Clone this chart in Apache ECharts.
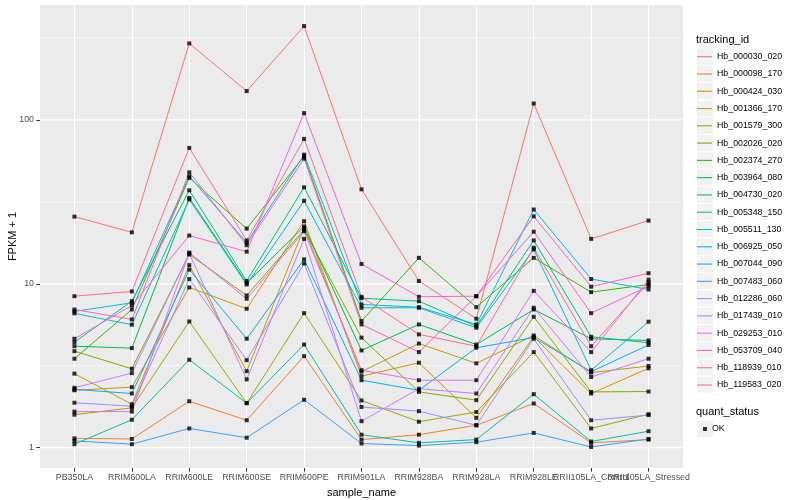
<!DOCTYPE html>
<html><head><meta charset="utf-8">
<script src="https://cdn.jsdelivr.net/npm/echarts@6/dist/echarts.min.js"></script>
</head><body style="margin:0;background:#fff">
<div id="c" style="width:800px;height:500px"></div>
<script>
const categories = ['PB350LA','RRIM600LA','RRIM600LE','RRIM600SE','RRIM600PE','RRIM901LA','RRIM928BA','RRIM928LA','RRIM928LE','RRII105LA_Control','RRII105LA_Stressed'];
const trackingIds = ['Hb_000030_020','Hb_000098_170','Hb_000424_030','Hb_001366_170','Hb_001579_300','Hb_002026_020','Hb_002374_270','Hb_003964_080','Hb_004730_020','Hb_005348_150','Hb_005511_130','Hb_006925_050','Hb_007044_090','Hb_007483_060','Hb_012286_060','Hb_017439_010','Hb_029253_010','Hb_053709_040','Hb_118939_010','Hb_119583_020'];
const lineColors = ['#F8766D','#EA8331','#D89000','#C09B00','#A3A500','#7CAE00','#39B600','#00BB4E','#00BF7D','#00C1A3','#00BFC4','#00BAE0','#00B0F6','#35A2FF','#9590FF','#C77CFF','#E76BF3','#FA62DB','#FF62BC','#FF6C91'];

// FPKM + 1 per sample, in category order
const Hb_000030_020 = [25.7, 20.6, 293, 150, 374, 37.7, 10.4, 6.12, 126, 18.8, 24.3];
const Hb_000098_170 = [1.14, 1.13, 1.92, 1.47, 3.62, 1.12, 1.2, 1.37, 1.86, 1.07, 1.12];
const Hb_000424_030 = [2.24, 2.34, 9.5, 7.04, 24.1, 2.73, 3.3, 1.52, 4.75, 2.14, 3.05];
const Hb_001366_170 = [2.83, 1.84, 13.0, 2.93, 21.9, 2.91, 4.32, 3.27, 4.84, 2.87, 3.15];
const Hb_001579_300 = [1.59, 1.75, 5.89, 1.87, 6.62, 1.94, 1.44, 1.65, 3.83, 1.31, 1.6];
const Hb_002026_020 = [3.88, 3.03, 15.1, 8.49, 21.4, 4.69, 2.19, 1.95, 6.29, 2.19, 2.2];
const Hb_002374_270 = [3.49, 6.97, 44.3, 21.7, 60, 5.92, 14.4, 7.2, 14.4, 8.89, 9.9];
const Hb_003964_080 = [4.16, 4.05, 33.4, 10.1, 22.4, 3.92, 5.65, 4.26, 6.97, 4.62, 4.51];
const Hb_004730_020 = [4.4, 7.84, 37.2, 10.4, 38.8, 8.17, 7.83, 5.51, 18.4, 4.75, 4.37];
const Hb_005348_150 = [1.05, 1.48, 3.44, 1.87, 4.26, 1.2, 1.07, 1.12, 2.12, 1.09, 1.26];
const Hb_005511_130 = [6.6, 5.63, 32.7, 9.9, 32.1, 7.14, 7.14, 5.39, 16.2, 2.97, 5.87];
const Hb_006925_050 = [6.78, 7.66, 45.3, 17.8, 61.4, 7.48, 7.2, 5.65, 28.4, 10.7, 9.23];
const Hb_007044_090 = [2.27, 2.14, 12.2, 4.62, 14.1, 2.58, 2.24, 4.07, 4.7, 2.91, 4.23];
const Hb_007483_060 = [1.1, 1.05, 1.31, 1.15, 1.96, 1.06, 1.03, 1.08, 1.23, 1.01, 1.13];
const Hb_012286_060 = [1.88, 1.79, 10.7, 3.42, 13.3, 1.77, 1.67, 1.37, 4.62, 1.47, 1.58];
const Hb_017439_010 = [2.32, 2.85, 15.3, 2.61, 18.8, 1.45, 2.29, 2.14, 7.14, 2.7, 3.49];
const Hb_029253_010 = [1.66, 1.66, 15.5, 8.1, 20.9, 2.97, 2.58, 2.58, 9.06, 3.83, 10.6];
const Hb_053709_040 = [4.62, 7.38, 19.7, 15.7, 110, 13.2, 8.33, 8.4, 20.8, 6.62, 9.67];
const Hb_118939_010 = [6.97, 6.06, 47.9, 17.2, 58.1, 5.65, 3.83, 8.4, 25.8, 9.6, 11.6];
const Hb_119583_020 = [8.4, 8.98, 67.5, 18.4, 76.6, 8.33, 4.91, 4.16, 16.6, 4.16, 10.2];

const yMajorTicks = [1, 10, 100];
const quantStatus = ['OK'];

const seriesValues = [Hb_000030_020, Hb_000098_170, Hb_000424_030, Hb_001366_170, Hb_001579_300,
  Hb_002026_020, Hb_002374_270, Hb_003964_080, Hb_004730_020, Hb_005348_150, Hb_005511_130,
  Hb_006925_050, Hb_007044_090, Hb_007483_060, Hb_012286_060, Hb_017439_010, Hb_029253_010,
  Hb_053709_040, Hb_118939_010, Hb_119583_020];

const FONT = "'Liberation Sans', Arial, Helvetica, sans-serif";
const L = v => Math.log10(v);
const allLog = seriesValues.flat().map(L);
const dMin = Math.min(...allLog), dMax = Math.max(...allLog), pad = 0.05 * (dMax - dMin);
const yLo = dMin - pad, yHi = dMax + pad;
const xLo = -0.6, xHi = categories.length - 1 + 0.6;
const majorLog = yMajorTicks.map(L);
const minorLog = majorLog.slice(0, -1).map((v, i) => (v + majorLog[i + 1]) / 2)
  .concat([majorLog[majorLog.length - 1] + 0.5]).filter(v => v < yHi);
const catIdx = categories.map((_, i) => i);
const evenIdx = catIdx.filter(i => i % 2 === 0);
const oddIdx = catIdx.filter(i => i % 2 === 1);

// horizontal panel grid lines (ggplot major + minor breaks of the log scale)
const gridLineSeries = majorLog.map(v => ({ v, w: 1.2 })).concat(minorLog.map(v => ({ v, w: 0.6 })))
  .map(g => ({
    type: 'line', z: 1, symbol: 'none',
    data: [[xLo, g.v], [xHi, g.v]],
    lineStyle: { color: '#FFFFFF', width: g.w }
  }));

const lineSeries = trackingIds.map((id, k) => ({
  type: 'line', name: id, symbol: 'none', silent: true, z: 2,
  data: seriesValues[k].map((v, i) => [i, L(v)]),
  lineStyle: { color: lineColors[k], width: 1 },
  itemStyle: { color: lineColors[k] }
}));

const pointData = [];
seriesValues.forEach(vals => vals.forEach((v, i) => pointData.push([i, L(v)])));

const keyRects = [];
trackingIds.forEach((_, i) => keyRects.push({ type: 'rect', z: 0,
  shape: { x: 696.5, y: 48 + 17.28 * i, width: 17.28, height: 17.28 },
  style: { fill: '#F2F2F2', stroke: '#fff', lineWidth: 1 } }));
keyRects.push({ type: 'rect', z: 0, shape: { x: 696.5, y: 420.4, width: 17.28, height: 17.28 },
  style: { fill: '#F2F2F2', stroke: '#fff', lineWidth: 1 } });

const xLabelStyle = { formatter: v => categories[Math.round(v)], color: '#4D4D4D',
  fontSize: 8.8, margin: 5.5, fontFamily: FONT, hideOverlap: false, showMinLabel: true, showMaxLabel: true };

const chart = echarts.init(document.getElementById('c'), null, { renderer: 'canvas' });
chart.setOption({
  animation: false,
  backgroundColor: '#FFFFFF',
  textStyle: { fontFamily: FONT },
  grid: { left: 40, right: 117, top: 5, bottom: 32, show: true, backgroundColor: '#EBEBEB', borderWidth: 0,
    containLabel: false, outerBoundsMode: 'none' },
  xAxis: [{
    type: 'value', min: xLo, max: xHi, position: 'bottom',
    axisLine: { show: false, onZero: false },
    axisTick: { show: true, length: 3.7, customValues: catIdx, lineStyle: { color: '#333333', width: 1 } },
    axisLabel: Object.assign({ customValues: evenIdx }, xLabelStyle),
    splitLine: { show: true, lineStyle: { color: '#FFFFFF', width: 1.1 } },
    name: 'sample_name', nameLocation: 'middle', nameGap: 10.5,
    nameTextStyle: { color: '#000', fontSize: 11, fontFamily: FONT, verticalAlign: 'top' }
  }, {
    type: 'value', min: xLo, max: xHi, position: 'bottom', offset: 0,
    axisLine: { show: false, onZero: false },
    axisTick: { show: false, customValues: oddIdx },
    axisLabel: Object.assign({ customValues: oddIdx }, xLabelStyle),
    splitLine: { show: false }
  }],
  yAxis: {
    type: 'value', min: yLo, max: yHi, position: 'left',
    axisLine: { show: false, onZero: false },
    axisTick: { show: true, length: 3.7, customValues: majorLog, lineStyle: { color: '#333333', width: 1 } },
    axisLabel: { customValues: majorLog, formatter: v => String(Math.round(Math.pow(10, v))),
      color: '#4D4D4D', fontSize: 8.8, margin: 6, fontFamily: FONT, showMinLabel: true, showMaxLabel: true },
    splitLine: { show: false }
  },
  legend: [{
    data: trackingIds, orient: 'vertical', left: 697, top: 51.7, padding: 0,
    itemWidth: 15, itemHeight: 10, itemGap: 7.28, selectedMode: false,
    icon: 'path://M0,0 L15,0 L15,1.1 L0,1.1 Z',
    textStyle: { fontSize: 8.8, color: '#000', lineHeight: 10, fontFamily: FONT }
  }, {
    data: quantStatus, orient: 'vertical', left: 703, top: 424, padding: 0,
    itemWidth: 4, itemHeight: 4, selectedMode: false, icon: 'rect',
    textStyle: { fontSize: 8.8, color: '#000', lineHeight: 10, fontFamily: FONT }
  }],
  graphic: keyRects.concat([
    { type: 'text', left: 696, top: 34.5, z: 5, style: { text: 'tracking_id', fontSize: 11, fill: '#000', fontFamily: FONT } },
    { type: 'text', left: 696, top: 406, z: 5, style: { text: 'quant_status', fontSize: 11, fill: '#000', fontFamily: FONT } },
    { type: 'text', x: 12.5, y: 236.5, rotation: Math.PI / 2, z: 5,
      style: { text: 'FPKM + 1', fontSize: 11, fill: '#000', fontFamily: FONT, align: 'center', verticalAlign: 'middle' } }
  ]),
  series: gridLineSeries.concat(lineSeries, [{
    type: 'scatter', name: 'OK', data: pointData, symbol: 'rect', symbolSize: 4, silent: true, z: 3,
    itemStyle: { color: '#000000' }
  }])
});
</script>
</body></html>
